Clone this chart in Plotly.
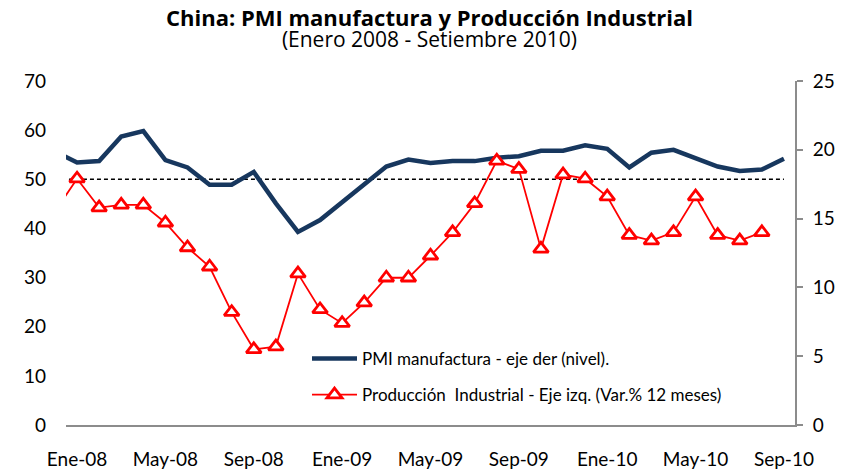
import plotly.graph_objects as go

# Monthly categories (Dic-07 is only partly visible at the left edge)
months = ["Dic-07",
          "Ene-08", "Feb-08", "Mar-08", "Abr-08", "May-08", "Jun-08", "Jul-08", "Ago-08",
          "Sep-08", "Oct-08", "Nov-08", "Dic-08",
          "Ene-09", "Feb-09", "Mar-09", "Abr-09", "May-09", "Jun-09", "Jul-09", "Ago-09",
          "Sep-09", "Oct-09", "Nov-09", "Dic-09",
          "Ene-10", "Feb-10", "Mar-10", "Abr-10", "May-10", "Jun-10", "Jul-10", "Ago-10",
          "Sep-10"]

pmi = [55.7,
       53.4, 53.7, 58.7, 59.8, 53.9, 52.4, 48.9, 48.9, 51.5, 45.1, 39.3, 41.7,
       45.4, 49.1, 52.6, 54.0, 53.3, 53.7, 53.7, 54.4, 54.7, 55.8, 55.8, 56.9,
       56.2, 52.4, 55.4, 56.0, 54.4, 52.6, 51.7, 52.0, 54.2]

prod_ind = [15.5,
            17.9, 15.8, 16.0, 16.0, 14.7, 12.9, 11.5, 8.2, 5.5, 5.7, 11.0, 8.4,
            7.4, 8.9, 10.7, 10.7, 12.3, 14.0, 16.1, 19.2, 18.6, 12.8, 18.2, 17.9,
            16.6, 13.8, 13.4, 14.0, 16.6, 13.8, 13.4, 14.0, None]

threshold = [50] * len(months)

tick_labels = ["Ene-08", "May-08", "Sep-08", "Ene-09", "May-09", "Sep-09",
               "Ene-10", "May-10", "Sep-10"]

left_ticks = [0, 10, 20, 30, 40, 50, 60, 70]
right_ticks = [0, 5, 10, 15, 20, 25]

FONT = "Lato"
TFONT = "Open Sans"
GRAY = "#8c8c8c"

fig = go.Figure()

fig.add_trace(go.Scatter(
    x=months, y=threshold, mode="lines",
    line=dict(color="black", width=1.5, dash="4px,3px"),
    showlegend=False, hoverinfo="skip", yaxis="y"))

fig.add_trace(go.Scatter(
    x=months, y=pmi, mode="lines",
    name="PMI manufactura - eje der (nivel).",
    line=dict(color="#17375E", width=4.5),
    yaxis="y", legend="legend"))

fig.add_trace(go.Scatter(
    x=months, y=prod_ind, mode="lines+markers",
    name="Producción  Industrial - Eje izq. (Var.% 12 meses)",
    line=dict(color="#FF0000", width=1.8),
    marker=dict(symbol="triangle-up", size=13, color="white",
                line=dict(color="#FF0000", width=2.8)),
    yaxis="y2", legend="legend2"))

title_text = ("<span style='font-size:22px'><b>China: PMI manufactura y Producción Industrial</b></span>"
              "<br><span style='font-size:21px'>(Enero 2008 - Setiembre 2010)</span>")

fig.update_layout(
    width=852, height=474,
    margin=dict(l=66, r=57, t=81, b=49, autoexpand=False),
    paper_bgcolor="white", plot_bgcolor="white",
    font=dict(family=FONT, size=19, color="black"),
    xaxis=dict(
        type="category", categoryorder="array", categoryarray=months,
        range=[0.5, len(months) - 0.5],
        tickmode="array", tickvals=tick_labels, ticktext=tick_labels,
        showgrid=False, zeroline=False,
        showline=True, linecolor=GRAY, linewidth=2,
        ticks="outside", ticklen=16, tickcolor="rgba(0,0,0,0)",
        tickfont=dict(size=19)),
    yaxis=dict(
        range=[0, 70], tickmode="array", tickvals=left_ticks,
        showgrid=False, zeroline=False, showline=False,
        ticks="", ticklabelstandoff=19,
        tickfont=dict(size=19)),
    yaxis2=dict(
        range=[0, 25], tickmode="array", tickvals=right_ticks,
        overlaying="y", side="right",
        showgrid=False, zeroline=False,
        showline=True, linecolor=GRAY, linewidth=2,
        ticks="outside", ticklen=6, tickcolor=GRAY, tickwidth=2,
        ticklabelstandoff=6,
        tickfont=dict(size=19)),
    legend=dict(x=(307 - 66) / 729, y=(425 - 359) / 344,
                xanchor="left", yanchor="middle", itemwidth=45,
                bgcolor="rgba(0,0,0,0)", font=dict(size=17)),
    legend2=dict(x=(307 - 66) / 729, y=(425 - 395) / 344,
                 xanchor="left", yanchor="middle", itemwidth=45,
                 bgcolor="rgba(0,0,0,0)", font=dict(size=17)),
    annotations=[
        dict(text=title_text,
             xref="paper", yref="paper", x=(429 - 66) / 729, y=1,
             xanchor="center", yanchor="top", yshift=81,
             showarrow=False, font=dict(size=16, family=TFONT)),
    ],
)

fig.write_html("out.html", config={"displayModeBar": False},
               post_script="document.body.style.margin='0px';")
